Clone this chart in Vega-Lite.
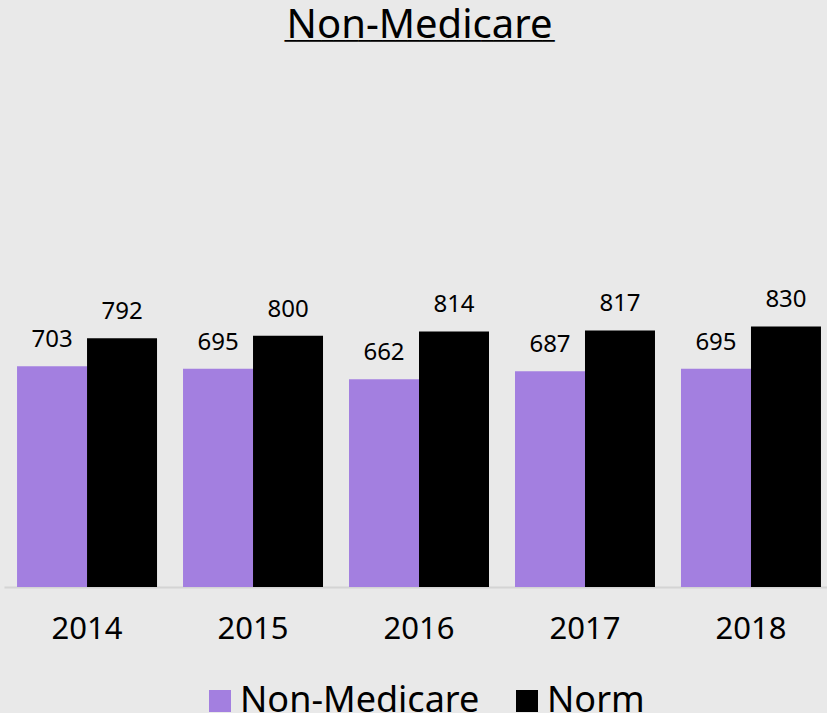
{
  "$schema": "https://vega.github.io/schema/vega-lite/v6.json",
  "width": 823,
  "height": 314,
  "autosize": "none",
  "padding": {"left": 4, "top": 273, "right": 0, "bottom": 126},
  "background": "#e9e9e9",
  "title": {
    "text": "Non-Medicare",
    "subtitle": "──────────────────────",
    "font": "Noto Sans",
    "fontSize": 40,
    "fontWeight": "normal",
    "color": "#000000",
    "subtitleFont": "DejaVu Sans Mono",
    "subtitleFontSize": 20.4,
    "subtitleColor": "#000000",
    "subtitlePadding": -14,
    "anchor": "middle",
    "dx": 4,
    "offset": 221
  },
  "data": {
    "values": [
      {"year": "2014", "series": "Non-Medicare", "value": 703},
      {"year": "2014", "series": "Norm", "value": 792},
      {"year": "2015", "series": "Non-Medicare", "value": 695},
      {"year": "2015", "series": "Norm", "value": 800},
      {"year": "2016", "series": "Non-Medicare", "value": 662},
      {"year": "2016", "series": "Norm", "value": 814},
      {"year": "2017", "series": "Non-Medicare", "value": 687},
      {"year": "2017", "series": "Norm", "value": 817},
      {"year": "2018", "series": "Non-Medicare", "value": 695},
      {"year": "2018", "series": "Norm", "value": 830}
    ]
  },
  "encoding": {
    "x": {
      "field": "year",
      "type": "nominal",
      "scale": {"paddingInner": 0.1566, "paddingOuter": 0.0574, "align": 0.684},
      "axis": {
        "title": null,
        "labelAngle": 0,
        "labelFont": "Noto Sans",
        "labelFontSize": 31,
        "labelColor": "#000000",
        "labelPadding": 27,
        "ticks": false,
        "domainColor": "#d4d4d4",
        "domainWidth": 2,
        "grid": false
      }
    },
    "xOffset": {
      "field": "series",
      "type": "nominal",
      "sort": ["Non-Medicare", "Norm"],
      "scale": {"paddingInner": 0, "paddingOuter": 0}
    },
    "y": {
      "field": "value",
      "type": "quantitative",
      "scale": {"domain": [0, 1000]},
      "axis": null
    }
  },
  "layer": [
    {
      "mark": {"type": "bar"},
      "encoding": {
        "color": {
          "field": "series",
          "type": "nominal",
          "sort": ["Non-Medicare", "Norm"],
          "scale": {"domain": ["Non-Medicare", "Norm"], "range": ["#a37fe0", "#000000"]},
          "legend": {
            "title": null,
            "orient": "none",
            "legendX": 198,
            "legendY": 410,
            "direction": "horizontal",
            "symbolType": "square",
            "symbolSize": 484,
            "symbolStrokeWidth": 0,
            "labelFont": "Noto Sans",
            "labelFontSize": 36,
            "labelLimit": 400,
            "labelColor": "#000000",
            "labelOffset": 2,
            "columnPadding": 29,
            "padding": 0
          }
        }
      }
    },
    {
      "mark": {"type": "text", "baseline": "alphabetic", "dy": -19, "font": "Noto Sans", "fontSize": 24, "color": "#000000"},
      "encoding": {"text": {"field": "value", "type": "quantitative"}}
    }
  ],
  "config": {"view": {"stroke": null}}
}
